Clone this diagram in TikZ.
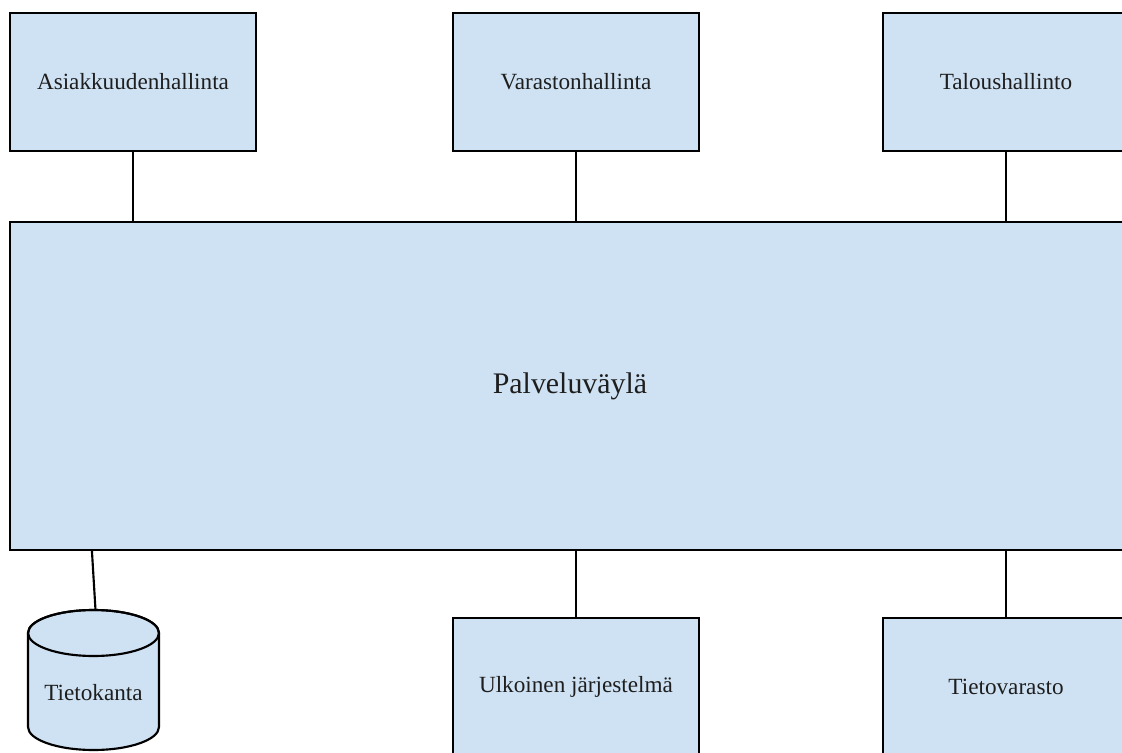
\documentclass[tikz,border=0pt]{standalone}
\usepackage{fontspec}
\setmainfont{Liberation Serif}
\usetikzlibrary{calc}
\definecolor{boxfill}{HTML}{CFE2F3}
\definecolor{txt}{HTML}{1E1E1E}
\begin{document}
\begin{tikzpicture}[x=0.75pt,y=0.75pt,
  line width=1.6pt,
  sysbox/.style={draw=black, fill=boxfill, line width=1.6pt, minimum width=184.5pt, minimum height=103.5pt, inner sep=0pt, text=txt, font=\fontsize{17.4}{20}\selectfont},
  busbox/.style={draw=black, fill=boxfill, line width=1.6pt, minimum width=840pt, minimum height=246pt, inner sep=0pt, text=txt, font=\fontsize{22.4}{26}\selectfont},
  link/.style={draw=black, line width=1.6pt}]
\useasboundingbox (0,0) rectangle (1122,-753);
\clip (0,0) rectangle (1122,-753);
\fill[white] (0,0) rectangle (1122,-753);
% top systems
\node[sysbox] (asiakas) at (133,-82) {Asiakkuudenhallinta};
\node[sysbox] (varasto) at (576,-82) {Varastonhallinta};
\node[sysbox] (talous) at (1006,-82) {Taloushallinto};
% bus
\node[busbox] (bus) at (570,-386) {Palveluväylä};
% bottom systems
\node[sysbox] (ulkoinen) at (576,-687) {Ulkoinen järjestelmä};
\node[sysbox] (tietovarasto) at (1006,-687) {Tietovarasto};
% database cylinder
\filldraw[fill=boxfill, draw=black, line width=1.6pt]
  (28,-633) -- (28,-727) arc[start angle=180, end angle=360, x radius=65.5, y radius=23]
  -- (159,-633) arc[start angle=0, end angle=180, x radius=65.5, y radius=23] -- cycle;
\draw[line width=1.6pt] (93.5,-633) ellipse [x radius=65.5, y radius=23];
\node[text=txt, font=\fontsize{17.4}{20}\selectfont] (db) at (93.5,-693) {Tietokanta};
\coordinate (dbtop) at (95.5,-610);
% connectors
\draw[link] (asiakas.south) -- (asiakas.south |- bus.north);
\draw[link] (varasto.south) -- (varasto.south |- bus.north);
\draw[link] (talous.south) -- (talous.south |- bus.north);
\draw[link] (ulkoinen.north |- bus.south) -- (ulkoinen.north);
\draw[link] (tietovarasto.north |- bus.south) -- (tietovarasto.north);
\draw[link] ($(bus.south west)+(83,0)$) -- (dbtop);
\end{tikzpicture}
\end{document}
